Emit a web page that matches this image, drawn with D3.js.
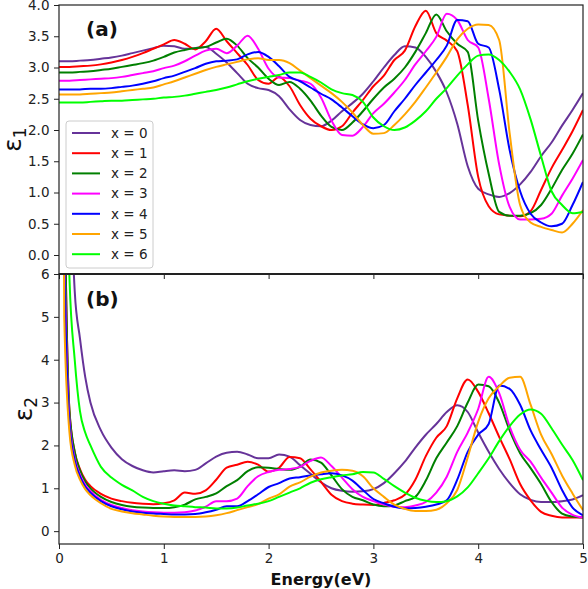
<!DOCTYPE html>
<html>
<head>
<meta charset="utf-8">
<script src="https://cdn.jsdelivr.net/npm/d3@7"></script>
<style>
  body { margin: 0; background: #fff; }
  svg { font-family: "DejaVu Sans", sans-serif; }
</style>
</head>
<body>
<svg id="chart" width="588" height="589"></svg>
<script>
// energy grids (eV)
const energyA = [0,0.1,0.2,0.3,0.4,0.5,0.6,0.7,0.8,0.9,1.0,1.1,1.2,1.3,1.4,1.5,1.6,1.7,1.8,1.9,2.0,2.1,2.2,2.3,2.4,2.5,2.6,2.7,2.8,2.9,3.0,3.1,3.2,3.3,3.4,3.5,3.6,3.7,3.8,3.9,4.0,4.1,4.2,4.3,4.4,4.5,4.6,4.7,4.8,4.9,5.0];
const energyB = [0,0.05,0.1,0.15,0.2,0.25,0.3,0.4,0.5,0.6,0.7,0.8,0.9,1.0,1.1,1.2,1.3,1.4,1.5,1.6,1.7,1.8,1.9,2.0,2.1,2.2,2.3,2.4,2.5,2.6,2.7,2.8,2.9,3.0,3.1,3.2,3.3,3.4,3.5,3.6,3.7,3.8,3.9,4.0,4.1,4.2,4.3,4.4,4.5,4.6,4.7,4.8,4.9,5.0];

// real part eps1, one array per x
const eps1_x0 = [3.10,3.10,3.11,3.12,3.14,3.16,3.19,3.23,3.27,3.31,3.35,3.34,3.30,3.31,3.33,3.22,3.08,2.91,2.74,2.67,2.64,2.54,2.33,2.16,2.08,2.06,2.15,2.30,2.43,2.58,2.78,3.00,3.20,3.34,3.32,3.17,2.93,2.60,2.10,1.42,1.06,0.97,0.93,0.99,1.13,1.33,1.58,1.80,2.07,2.32,2.59];
const eps1_x1 = [3.01,3.01,3.02,3.03,3.05,3.08,3.12,3.17,3.23,3.30,3.37,3.44,3.38,3.29,3.42,3.62,3.42,3.23,3.04,2.80,2.74,2.85,2.70,2.40,2.18,2.06,2.00,2.06,2.28,2.48,2.70,2.87,3.12,3.27,3.66,3.91,3.55,3.43,3.26,2.40,1.25,0.78,0.65,0.63,0.62,0.70,1.04,1.39,1.68,1.98,2.32];
const eps1_x2 = [2.92,2.92,2.93,2.94,2.96,2.98,3.01,3.04,3.07,3.11,3.17,3.24,3.28,3.31,3.33,3.40,3.46,3.35,3.15,3.00,2.82,2.72,2.77,2.66,2.47,2.23,2.05,2.00,2.12,2.30,2.50,2.68,2.82,3.00,3.25,3.55,3.85,3.58,3.38,3.25,2.15,1.30,0.69,0.63,0.63,0.67,0.80,1.06,1.36,1.62,1.93];
const eps1_x3 = [2.79,2.79,2.80,2.81,2.82,2.83,2.85,2.88,2.91,2.94,2.99,3.03,3.10,3.19,3.27,3.30,3.23,3.35,3.51,3.30,2.98,2.84,2.83,2.79,2.74,2.52,2.15,1.92,1.91,2.05,2.27,2.42,2.60,2.80,3.05,3.26,3.49,3.86,3.76,3.44,3.32,2.50,1.45,0.77,0.57,0.57,0.58,0.66,0.95,1.22,1.52];
const eps1_x4 = [2.65,2.65,2.65,2.66,2.66,2.67,2.69,2.71,2.74,2.78,2.83,2.87,2.93,2.99,3.06,3.10,3.11,3.13,3.21,3.25,3.17,3.02,2.85,2.78,2.68,2.58,2.49,2.36,2.22,2.09,2.03,2.08,2.30,2.50,2.72,2.92,3.12,3.35,3.76,3.74,3.38,3.32,2.65,1.68,1.02,0.66,0.52,0.46,0.50,0.80,1.17];
const eps1_x5 = [2.57,2.57,2.57,2.58,2.59,2.60,2.62,2.64,2.66,2.68,2.73,2.78,2.84,2.90,2.96,3.01,3.05,3.09,3.13,3.15,3.12,3.12,3.07,2.95,2.83,2.71,2.59,2.45,2.28,2.08,1.94,1.95,2.08,2.25,2.45,2.68,2.92,3.17,3.45,3.62,3.69,3.68,3.44,1.95,0.80,0.52,0.45,0.40,0.36,0.50,0.72];
const eps1_x6 = [2.44,2.44,2.44,2.45,2.46,2.47,2.47,2.48,2.49,2.50,2.52,2.53,2.55,2.58,2.61,2.64,2.68,2.73,2.78,2.82,2.85,2.88,2.92,2.92,2.85,2.76,2.65,2.59,2.56,2.45,2.20,2.06,2.00,2.04,2.15,2.30,2.50,2.67,2.87,3.05,3.19,3.21,3.12,2.93,2.65,2.17,1.58,1.02,0.80,0.67,0.69];

// imaginary part eps2, one array per x
const eps2_x0 = [40,25,10,5.6,4.5,3.6,3.0,2.35,1.95,1.68,1.52,1.42,1.37,1.40,1.42,1.40,1.43,1.58,1.74,1.83,1.85,1.79,1.70,1.70,1.79,1.74,1.54,1.34,1.14,1.00,0.94,0.92,0.93,0.98,1.12,1.35,1.62,1.95,2.25,2.50,2.78,2.94,2.78,2.30,1.85,1.45,1.12,0.86,0.73,0.68,0.68,0.70,0.74,0.84];
const eps2_x1 = [40,9,2.8,1.85,1.45,1.2,1.05,0.87,0.76,0.70,0.66,0.64,0.63,0.65,0.72,0.90,0.87,0.95,1.20,1.48,1.55,1.62,1.55,1.39,1.48,1.73,1.70,1.44,1.15,0.85,0.70,0.64,0.62,0.61,0.66,0.72,0.85,1.20,1.75,2.18,2.45,3.10,3.54,3.25,2.75,2.20,1.68,1.10,0.72,0.45,0.36,0.32,0.32,0.32];
const eps2_x2 = [40,9,2.8,1.85,1.42,1.16,1.0,0.80,0.68,0.61,0.57,0.55,0.54,0.54,0.56,0.62,0.74,0.80,0.88,1.05,1.19,1.40,1.49,1.48,1.45,1.43,1.50,1.67,1.60,1.30,0.98,0.80,0.72,0.62,0.58,0.60,0.70,0.80,1.18,1.70,2.07,2.45,3.00,3.42,3.38,3.00,2.35,1.82,1.47,1.10,0.68,0.41,0.34,0.32];
const eps2_x3 = [40,7,2.6,1.7,1.32,1.08,0.93,0.73,0.61,0.54,0.49,0.46,0.44,0.43,0.43,0.44,0.48,0.57,0.70,0.70,0.76,1.05,1.28,1.38,1.43,1.45,1.50,1.64,1.72,1.52,1.25,0.98,0.80,0.70,0.62,0.57,0.56,0.60,0.68,0.90,1.27,1.85,2.30,2.85,3.60,3.22,2.44,1.90,1.62,1.25,0.90,0.55,0.38,0.32];
const eps2_x4 = [40,6.5,2.5,1.65,1.28,1.04,0.90,0.70,0.58,0.51,0.46,0.43,0.41,0.40,0.39,0.39,0.40,0.44,0.50,0.58,0.58,0.70,0.86,1.03,1.12,1.23,1.26,1.30,1.33,1.35,1.30,1.18,0.96,0.75,0.65,0.57,0.53,0.54,0.57,0.62,0.72,1.20,1.85,2.25,2.50,3.40,3.32,2.95,2.35,1.90,1.48,0.96,0.55,0.37];
const eps2_x5 = [40,5.0,2.3,1.55,1.2,0.98,0.84,0.65,0.52,0.46,0.42,0.39,0.36,0.34,0.33,0.33,0.33,0.34,0.37,0.42,0.49,0.56,0.63,0.76,0.86,1.04,1.14,1.27,1.37,1.41,1.43,1.41,1.28,1.00,0.80,0.62,0.52,0.47,0.47,0.50,0.65,0.96,1.72,2.55,3.10,3.38,3.58,3.60,2.95,2.25,1.80,1.30,0.88,0.49];
const eps2_x6 = [40,14,5.9,4.0,2.8,2.3,2.0,1.5,1.25,1.08,0.95,0.80,0.70,0.64,0.60,0.58,0.56,0.55,0.53,0.53,0.55,0.60,0.64,0.70,0.80,0.90,1.0,1.13,1.21,1.26,1.30,1.33,1.38,1.37,1.22,1.05,0.90,0.78,0.71,0.68,0.70,0.81,1.02,1.35,1.70,2.10,2.45,2.72,2.84,2.74,2.40,2.02,1.66,1.19];

const seriesLabels = ["x = 0", "x = 1", "x = 2", "x = 3", "x = 4", "x = 5", "x = 6"];
const seriesColors = ["rebeccapurple", "red", "green", "magenta", "blue", "orange", "lime"];
const ticksA = [0, 0.5, 1, 1.5, 2, 2.5, 3, 3.5, 4];
const ticksB = [0, 1, 2, 3, 4, 5, 6];
const ticksX = [0, 1, 2, 3, 4, 5];

const eps1 = [eps1_x0, eps1_x1, eps1_x2, eps1_x3, eps1_x4, eps1_x5, eps1_x6];
const eps2 = [eps2_x0, eps2_x1, eps2_x2, eps2_x3, eps2_x4, eps2_x5, eps2_x6];

const svg = d3.select("#chart");

// layout of the two stacked panels
const left = 59, right = 583;
const topA = 5, bottomA = 274;
const topB = 274, bottomB = 544;

const x = d3.scaleLinear().domain([0, 5]).range([left, right]);
const yA = d3.scaleLinear().domain([-0.304, 4.0]).range([bottomA, topA]);
const yB = d3.scaleLinear().domain([-0.3, 6]).range([bottomB, topB]);

// clip paths so the curves stay inside each panel
const defs = svg.append("defs");
defs.append("clipPath").attr("id", "clipA")
  .append("rect").attr("x", left).attr("y", topA).attr("width", right - left).attr("height", bottomA - topA);
defs.append("clipPath").attr("id", "clipB")
  .append("rect").attr("x", left).attr("y", topB).attr("width", right - left).attr("height", bottomB - topB);

function drawPanel(values, energy, y, clipId) {
  const line = d3.line()
    .x((d, i) => x(energy[i]))
    .y(d => y(d))
    .curve(d3.curveMonotoneX);

  svg.append("g")
    .attr("clip-path", `url(#${clipId})`)
    .selectAll("path")
    .data(values)
    .join("path")
    .attr("d", d => line(d))
    .attr("fill", "none")
    .attr("stroke", (d, i) => seriesColors[i])
    .attr("stroke-width", 2)
    .attr("stroke-linejoin", "round");
}

drawPanel(eps1, energyA, yA, "clipA");
drawPanel(eps2, energyB, yB, "clipB");

// axes
function styleAxis(g) {
  g.select(".domain").remove();
  g.selectAll(".tick line").attr("stroke", "#222");
  g.selectAll(".tick text")
    .attr("fill", "#222")
    .style("font-family", "DejaVu Sans")
    .style("font-size", "13.5px");
}

svg.append("g")
  .attr("transform", `translate(${left},0)`)
  .call(d3.axisLeft(yA).tickValues(ticksA).tickFormat(d3.format(".1f")).tickSize(5).tickPadding(4.5))
  .call(styleAxis);

svg.append("g")
  .attr("transform", `translate(${left},0)`)
  .call(d3.axisLeft(yB).tickValues(ticksB).tickFormat(d3.format("d")).tickSize(5).tickPadding(4.5))
  .call(styleAxis);

// top panel shares x: ticks, no labels
svg.append("g")
  .attr("transform", `translate(0,${bottomA})`)
  .call(d3.axisBottom(x).tickValues(ticksX).tickFormat("").tickSize(5))
  .call(styleAxis);

svg.append("g")
  .attr("transform", `translate(0,${bottomB})`)
  .call(d3.axisBottom(x).tickValues(ticksX).tickFormat(d3.format("d")).tickSize(5).tickPadding(4.5))
  .call(styleAxis);

// frames
[[topA, bottomA], [topB, bottomB]].forEach(([t, b]) => {
  svg.append("rect")
    .attr("x", left).attr("y", t)
    .attr("width", right - left).attr("height", b - t)
    .attr("fill", "none")
    .attr("stroke", "#222")
    .attr("stroke-width", 1.2);
});
svg.append("line")
  .attr("x1", left).attr("x2", right)
  .attr("y1", bottomA).attr("y2", bottomA)
  .attr("stroke", "#222").attr("stroke-width", 2.2);

// panel tags
svg.append("text").attr("x", 86).attr("y", 36)
  .attr("font-size", 20).attr("font-weight", "bold").attr("fill", "#111").text("(a)");
svg.append("text").attr("x", 86).attr("y", 306)
  .attr("font-size", 20).attr("font-weight", "bold").attr("fill", "#111").text("(b)");

// y labels
function yLabel(xPos, yPos, sub) {
  const t = svg.append("text")
    .attr("transform", `translate(${xPos},${yPos}) rotate(-90)`)
    .attr("text-anchor", "middle")
    .attr("font-size", 25)
    .attr("fill", "#111");
  t.append("tspan").text("ε");
  t.append("tspan").attr("font-size", 17).attr("dy", 5).text(sub);
}
yLabel(21, (topA + bottomA) / 2, "1");
yLabel(32, (topB + bottomB) / 2, "2");

// x label
svg.append("text")
  .attr("x", (left + right) / 2).attr("y", 585)
  .attr("text-anchor", "middle")
  .attr("font-size", 16).attr("font-weight", "bold").attr("fill", "#111")
  .text("Energy(eV)");

// legend
const legend = svg.append("g");
legend.append("rect")
  .attr("x", 66).attr("y", 121).attr("width", 87).attr("height", 147)
  .attr("rx", 3)
  .attr("fill", "white").attr("fill-opacity", 0.85)
  .attr("stroke", "#ccc").attr("stroke-width", 1);

const items = legend.selectAll("g.item")
  .data(seriesLabels)
  .join("g")
  .attr("class", "item")
  .attr("transform", (d, i) => `translate(0,${133 + i * 20.2})`);

items.append("line")
  .attr("x1", 72).attr("x2", 100)
  .attr("stroke", (d, i) => seriesColors[i])
  .attr("stroke-width", 2);

items.append("text")
  .attr("x", 111).attr("dy", "0.35em")
  .attr("font-size", 13.5).attr("fill", "#222")
  .text(d => d);
</script>
</body>
</html>
